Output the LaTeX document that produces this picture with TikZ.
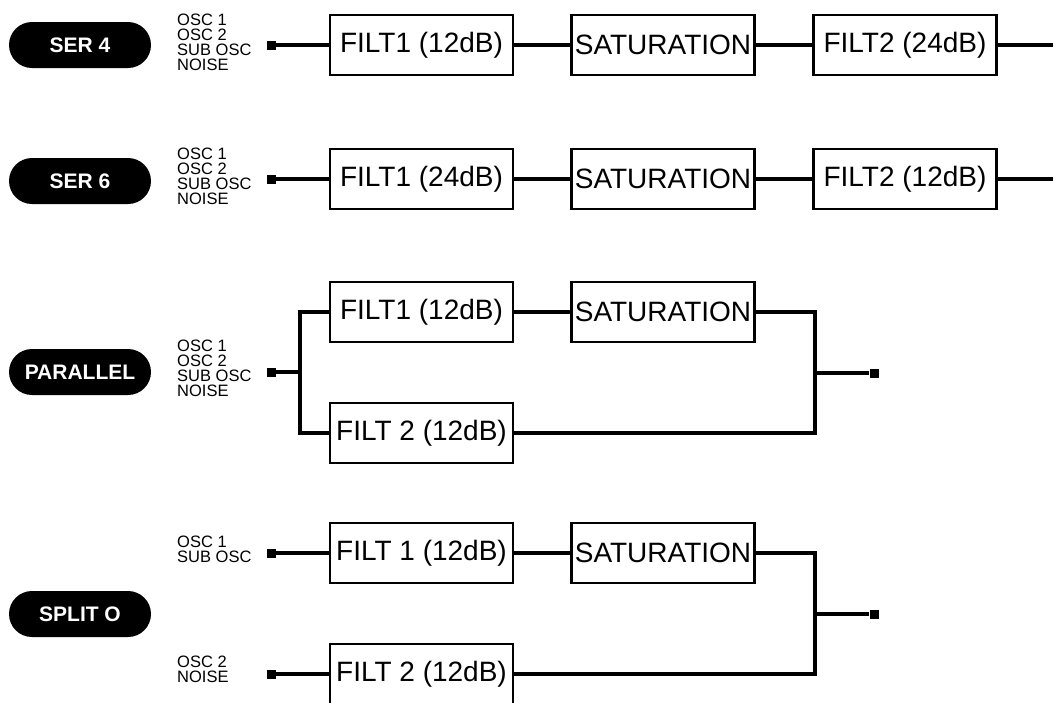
\documentclass[tikz,border=0pt]{standalone}
\usepackage{fontspec}
\setmainfont{Liberation Sans}
\usetikzlibrary{positioning}

\begin{document}
\begin{tikzpicture}[x=1pt,y=-1pt,
  filt/.style={draw, line width=2.2pt, minimum width=183pt, minimum height=60pt, inner sep=0pt, font=\fontsize{28}{28}\selectfont},
  mode/.style={fill=black, text=white, rounded corners=23pt, minimum width=142pt, minimum height=46pt, inner sep=0pt, font=\bfseries\fontsize{21}{21}\selectfont},
  src/.style={anchor=west, align=left, inner sep=0pt, font=\fontsize{16.5}{15}\selectfont},
  jack/.style={fill=black, minimum size=9pt, inner sep=0pt},
  wire/.style={line width=3.2pt}]
  \useasboundingbox (0,0) rectangle (1054,702);
  % SER 4
  \node [mode] (m1) at (80,45) {SER 4};
  \node [src] (s1) at (177,42) {OSC 1\\OSC 2\\SUB OSC\\NOISE};
  \node [jack] (j1) at (271,45) {};
  \node [filt] (a1) at (421.5,45) {FILT1 (12dB)};
  \node [filt] (b1) at (663,45) {SATURATION};
  \node [filt] (c1) at (905,45) {FILT2 (24dB)};
  \node [jack] (o1) at (1058,45) {};
  \draw [wire] (j1) -- (a1) -- (b1) -- (c1) -- (o1);
  % SER 6
  \node [mode] (m2) at (80,181) {SER 6};
  \node [src] (s2) at (177,176) {OSC 1\\OSC 2\\SUB OSC\\NOISE};
  \node [jack] (j2) at (271,179) {};
  \node [filt] (a2) at (421.5,179) {FILT1 (24dB)};
  \node [filt] (b2) at (663,179) {SATURATION};
  \node [filt] (c2) at (905,179) {FILT2 (12dB)};
  \node [jack] (o2) at (1058,179) {};
  \draw [wire] (j2) -- (a2) -- (b2) -- (c2) -- (o2);
  % PARALLEL
  \node [mode] (m3) at (80,372) {PARALLEL};
  \node [src] (s3) at (177,368) {OSC 1\\OSC 2\\SUB OSC\\NOISE};
  \node [jack] (j3) at (271,372) {};
  \coordinate (k3) at (300,372);
  \node [filt] (a3) at (421.5,312) {FILT1 (12dB)};
  \node [filt] (b3) at (663,312) {SATURATION};
  \node [filt] (c3) at (421.5,433) {FILT 2 (12dB)};
  \coordinate (e3) at (815,373);
  \node [jack] (o3) at (874,373) {};
  \draw [wire] (j3) -- (k3);
  \draw [wire] (a3.west) -| (k3) |- (c3.west);
  \draw [wire] (a3) -- (b3);
  \draw [wire] (b3.east) -| (e3) |- (c3.east);
  \draw [wire] (e3) -- (o3);
  % SPLIT O
  \node [mode] (m4) at (80,614) {SPLIT O};
  \node [src] (s4) at (177,549) {OSC 1\\SUB OSC};
  \node [src] (t4) at (177,669) {OSC 2\\NOISE};
  \node [jack] (j4) at (271,553) {};
  \node [jack] (i4) at (271,674) {};
  \node [filt] (a4) at (421.5,553) {FILT 1 (12dB)};
  \node [filt] (b4) at (663,553) {SATURATION};
  \node [filt] (c4) at (421.5,674) {FILT 2 (12dB)};
  \coordinate (e4) at (815,614);
  \node [jack] (o4) at (874,614) {};
  \draw [wire] (j4) -- (a4) -- (b4);
  \draw [wire] (i4) -- (c4);
  \draw [wire] (b4.east) -| (e4) |- (c4.east);
  \draw [wire] (e4) -- (o4);
\end{tikzpicture}
\end{document}
